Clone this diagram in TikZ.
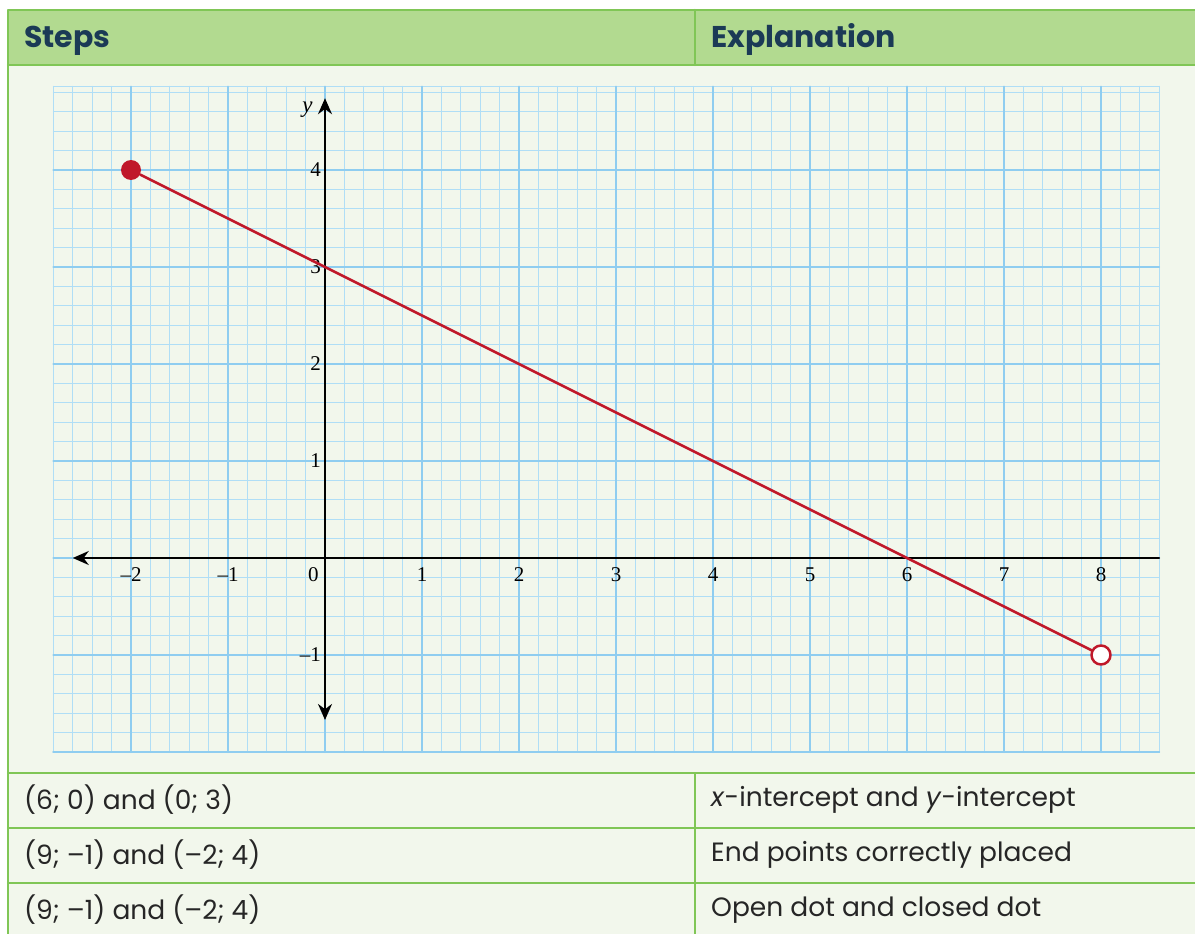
\documentclass[tikz,border=0pt]{standalone}
\usepackage{fontspec}
\setmainfont{Poppins}
\newfontfamily\graphfont{Liberation Serif}
\usetikzlibrary{arrows.meta}
\definecolor{hdrgreen}{HTML}{B2DA90}
\definecolor{cellgreen}{HTML}{F2F7EC}
\definecolor{rulegreen}{HTML}{80C656}
\definecolor{hdrtext}{HTML}{1B3A56}
\definecolor{gridminor}{HTML}{B0DEF6}
\definecolor{gridmajor}{HTML}{8FCDF0}
\definecolor{linered}{HTML}{C0182A}
\tikzset{
  hdrlabel/.style={anchor=base west,inner sep=0pt,text=hdrtext,font=\bfseries\fontsize{30}{30}\selectfont},
  rowlabel/.style={anchor=west,inner sep=0pt,text=black!85,font=\fontsize{26.5}{26.5}\selectfont},
  ticklabel/.style={inner sep=0pt,font=\graphfont\fontsize{21}{21}\selectfont},
}
\begin{document}
\begin{tikzpicture}[x=1pt,y=-1pt,line cap=round,line join=round]
  \useasboundingbox (0,0) rectangle (1195,934);
  % table
  \fill[cellgreen] (8,10) rectangle (1195,934);
  \fill[hdrgreen] (8,10) rectangle (1195,65);
  \draw[rulegreen,line width=2.5pt,line cap=butt] (1195,10) -- (8,10) -- (8,934);
  \draw[rulegreen,line width=2.5pt] (8,65) -- (1195,65);
  \draw[rulegreen,line width=2.5pt] (8,773) -- (1195,773);
  \draw[rulegreen,line width=2.5pt] (8,828) -- (1195,828);
  \draw[rulegreen,line width=2.5pt] (8,883) -- (1195,883);
  \draw[rulegreen,line width=2.5pt] (695,10) -- (695,65);
  \draw[rulegreen,line width=2.5pt,line cap=butt] (695,773) -- (695,934);
  \node[hdrlabel] (steps) at (24,48) {Steps};
  \node[hdrlabel] (expl) at (711,48) {Explanation};
  \node[rowlabel] (r1a) at (24,800) {(6; 0) and (0; 3)};
  \node[rowlabel] (r1b) at (711,800) {\textit{x}-intercept and \textit{y}-intercept};
  \node[rowlabel] (r2a) at (24,855) {(9; –1) and (–2; 4)};
  \node[rowlabel] (r2b) at (711,855) {End points correctly placed};
  \node[rowlabel] (r3a) at (24,910) {(9; –1) and (–2; 4)};
  \node[rowlabel] (r3b) at (711,910) {Open dot and closed dot};
  % graph
  \begin{scope}[shift={(325,558)},x=97pt,y=97pt]
    \foreach \i in {-14,...,43}
      \draw[gridminor,line width=1.3pt] (\i/5,-2) -- (\i/5,4.86);
    \foreach \j in {-10,...,24}
      \draw[gridminor,line width=1.3pt] (-2.8,\j/5) -- (8.6,\j/5);
    \draw[gridminor,line width=1.3pt] (-2.8,4.86) -- (8.6,4.86);
    \foreach \i in {-2,...,8}
      \draw[gridmajor,line width=2pt] (\i,-2) -- (\i,4.86);
    \foreach \j in {-2,...,4}
      \draw[gridmajor,line width=2pt] (-2.8,\j) -- (8.6,\j);
    \draw[gridmajor,line width=2pt] (-2.8,-2) -- (8.6,-2);
    % axes
    \coordinate (xr) at (8.6,0);
    \coordinate (xl) at (-2.6,0);
    \coordinate (yt) at (0,4.74);
    \coordinate (yb) at (0,-1.67);
    \draw[line width=2pt,-{Stealth[length=16pt,width=14pt]}] (xr) -- (xl);
    \draw[line width=2pt,{Stealth[length=16pt,width=14pt]}-{Stealth[length=16pt,width=14pt]}] (yb) -- (yt);
    \node[ticklabel,font=\graphfont\itshape\fontsize{23}{23}\selectfont] (ylab) at (-0.18,4.62) {y};
    \foreach \x/\lab in {-2/–2,-1/–1,1/1,2/2,3/3,4/4,5/5,6/6,7/7,8/8}
      \node[ticklabel] (xt\x) at (\x,-0.17) {\lab};
    \node[ticklabel] (xt0) at (-0.12,-0.17) {0};
    \foreach \y/\lab in {-1/–1,1/1,2/2,3/3,4/4}
      \node[ticklabel,anchor=east] (yt\y) at (-0.04,\y) {\lab};
    % line segment
    \node[circle,fill=linered,minimum size=20pt,inner sep=0pt] (closed) at (-2,4) {};
    \node[circle,draw=linered,fill=white,line width=2.5pt,minimum size=19pt,inner sep=0pt] (open) at (8,-1) {};
    \draw[linered,line width=2.5pt] (closed) -- (open);
  \end{scope}
\end{tikzpicture}
\end{document}
